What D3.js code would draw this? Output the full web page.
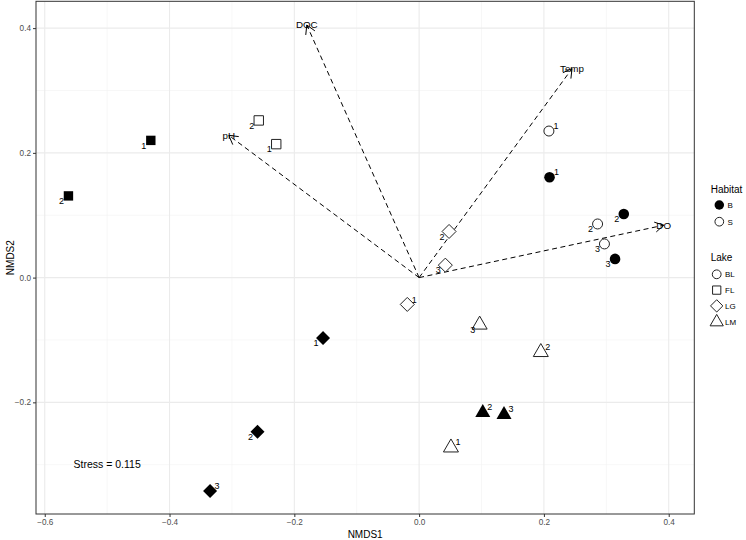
<!DOCTYPE html>
<html>
<head>
<meta charset="utf-8">
<script src="https://cdn.jsdelivr.net/npm/d3@7"></script>
<style>
  body { margin: 0; background: #fff; }
  text { font-family: "Liberation Sans", Arial, Helvetica, sans-serif; }
</style>
</head>
<body>
<div id="chart"></div>
<script>
var svgWidth = 746;
var svgHeight = 540;

// site scores
var habitat = ["B","B","S","S","S","B","B","S","S","B","S","S","S","B","B","B","S","S","B","B","S"];
var lake    = ["FL","FL","FL","FL","BL","BL","BL","BL","BL","BL","LG","LG","LG","LG","LG","LG","LM","LM","LM","LM","LM"];
var siteNo  = ["1","2","2","1","1","1","2","2","3","3","2","3","1","1","2","3","3","2","2","3","1"];
var nmds1   = [-0.430,-0.562,-0.257,-0.229,0.208,0.209,0.328,0.286,0.297,0.314,0.048,0.042,-0.019,-0.154,-0.259,-0.335,0.097,0.195,0.102,0.136,0.051];
var nmds2   = [0.220,0.131,0.252,0.214,0.235,0.161,0.102,0.086,0.054,0.030,0.074,0.020,-0.043,-0.097,-0.247,-0.342,-0.075,-0.119,-0.216,-0.219,-0.272];
// which side the number sits on: "ur" up-right, "dl" down-left
var labelSide = ["dl","dl","dl","dl","ur","ur","dl","dl","dl","dl","dl","dl","ur","dl","dl","ur","dl","ur","ur","ur","ur"];

// environmental vectors
var envNames = ["DOC","Temp","pH","DO"];
var envX = [-0.180, 0.245, -0.305, 0.392];
var envY = [0.405, 0.335, 0.228, 0.084];

var xTicks = [-0.6,-0.4,-0.2,0.0,0.2,0.4];
var yTicks = [-0.2,0.0,0.2,0.4];
var xMinor = [-0.5,-0.3,-0.1,0.1,0.3];
var yMinor = [-0.3,-0.1,0.1,0.3];

var habitatLevels = ["B","S"];
var lakeLevels = ["BL","FL","LG","LM"];
var stressText = "Stress = 0.115";

var panel = {left: 36, right: 694.3, top: 1.3, bottom: 514};

var svg = d3.select("#chart")
  .append("svg")
  .attr("width", svgWidth)
  .attr("height", svgHeight);

var x = d3.scaleLinear().domain([-0.614, 0.441]).range([panel.left, panel.right]);
var y = d3.scaleLinear().domain([-0.379, 0.443]).range([panel.bottom, panel.top]);

// grid
var grid = svg.append("g");
grid.selectAll(".xminor").data(xMinor).enter().append("line")
  .attr("x1", d => x(d)).attr("x2", d => x(d))
  .attr("y1", panel.top).attr("y2", panel.bottom)
  .attr("stroke", "#f2f2f2").attr("stroke-width", 0.6);
grid.selectAll(".yminor").data(yMinor).enter().append("line")
  .attr("y1", d => y(d)).attr("y2", d => y(d))
  .attr("x1", panel.left).attr("x2", panel.right)
  .attr("stroke", "#f2f2f2").attr("stroke-width", 0.6);
grid.selectAll(".xmajor").data(xTicks).enter().append("line")
  .attr("x1", d => x(d)).attr("x2", d => x(d))
  .attr("y1", panel.top).attr("y2", panel.bottom)
  .attr("stroke", "#ebebeb").attr("stroke-width", 1.1);
grid.selectAll(".ymajor").data(yTicks).enter().append("line")
  .attr("y1", d => y(d)).attr("y2", d => y(d))
  .attr("x1", panel.left).attr("x2", panel.right)
  .attr("stroke", "#ebebeb").attr("stroke-width", 1.1);

// axes
var fmt = d => d3.format(".1f")(d).replace("-", "\u2212");
var bottomAxis = d3.axisBottom(x).tickValues(xTicks).tickFormat(fmt).tickSize(3).tickPadding(2);
var leftAxis = d3.axisLeft(y).tickValues(yTicks).tickFormat(fmt).tickSize(3).tickPadding(2);

var xAxis = svg.append("g")
  .attr("transform", `translate(0, ${panel.bottom})`)
  .call(bottomAxis);
var yAxis = svg.append("g")
  .attr("transform", `translate(${panel.left}, 0)`)
  .call(leftAxis);
[xAxis, yAxis].forEach(function(a) {
  a.select(".domain").remove();
  a.selectAll("line").attr("stroke", "#333").attr("stroke-width", 1);
  a.selectAll("text").attr("fill", "#4d4d4d").style("font-size", "8.2px");
});

svg.append("rect")
  .attr("x", panel.left).attr("y", panel.top)
  .attr("width", panel.right - panel.left).attr("height", panel.bottom - panel.top)
  .attr("fill", "none").attr("stroke", "#333").attr("stroke-width", 1);

svg.append("text")
  .attr("x", (panel.left + panel.right) / 2).attr("y", 538)
  .attr("text-anchor", "middle").style("font-size", "10px")
  .text("NMDS1");
svg.append("text")
  .attr("transform", `translate(13.5, ${(panel.top + panel.bottom) / 2}) rotate(-90)`)
  .attr("text-anchor", "middle").style("font-size", "10px")
  .text("NMDS2");

// shape paths
function shapePath(l, k) {
  k = k || 1;
  if (l === "BL") {
    var r = 5 * k;
    return `M${-r},0A${r},${r} 0 1,0 ${r},0A${r},${r} 0 1,0 ${-r},0Z`;
  } else if (l === "FL") {
    var h = 4.7 * k;
    return `M${-h},${-h}L${h},${-h}L${h},${h}L${-h},${h}Z`;
  } else if (l === "LG") {
    var d = 7 * k;
    return `M0,${-d}L${d},0L0,${d}L${-d},0Z`;
  }
  var w = 7.5 * k;
  return `M0,${-8.3 * k}L${w},${4.7 * k}L${-w},${4.7 * k}Z`;
}

// env vectors
var vec = svg.append("g");
envNames.forEach(function(n, i) {
  var x1 = x(0), y1 = y(0), x2 = x(envX[i]), y2 = y(envY[i]);
  vec.append("line")
    .attr("x1", x1).attr("y1", y1).attr("x2", x2).attr("y2", y2)
    .attr("stroke", "#000").attr("stroke-width", 1)
    .attr("stroke-dasharray", "5,3.5");
  var ang = Math.atan2(y2 - y1, x2 - x1);
  var len = 10, spread = Math.PI / 6;
  [ang + spread, ang - spread].forEach(function(a) {
    vec.append("line")
      .attr("x1", x2).attr("y1", y2)
      .attr("x2", x2 - len * Math.cos(a)).attr("y2", y2 - len * Math.sin(a))
      .attr("stroke", "#000").attr("stroke-width", 1);
  });
  vec.append("text")
    .attr("x", x2).attr("y", y2)
    .attr("text-anchor", "middle").attr("dy", "0.35em")
    .style("font-size", "9.8px")
    .text(n);
});

// points
var pts = svg.append("g");
nmds1.forEach(function(v, i) {
  var filled = habitat[i] === "B";
  pts.append("path")
    .attr("d", shapePath(lake[i], filled && lake[i] === "BL" ? 1.06 : 1))
    .attr("transform", `translate(${x(v)},${y(nmds2[i])})`)
    .attr("fill", filled ? "#000" : "#fff")
    .attr("stroke", filled ? "none" : "#222")
    .attr("stroke-width", 1);
  var up = labelSide[i] === "ur";
  pts.append("text")
    .attr("x", x(v) + (up ? 7 : -7))
    .attr("y", y(nmds2[i]) + (up ? -5 : 5))
    .attr("text-anchor", "middle").attr("dy", "0.35em")
    .style("font-size", "9px")
    .text(siteNo[i]);
});

svg.append("text")
  .attr("x", x(-0.5)).attr("y", y(-0.3))
  .attr("text-anchor", "middle").attr("dy", "0.35em")
  .style("font-size", "10.5px")
  .text(stressText);

// legends
var leg = svg.append("g");
leg.append("text").attr("x", 710.7).attr("y", 193).style("font-size", "10px").text("Habitat");
habitatLevels.forEach(function(h, i) {
  var cy = 205 + i * 16.7;
  leg.append("path")
    .attr("d", shapePath("BL", h === "B" ? 0.95 : 0.87))
    .attr("transform", `translate(719.3,${cy})`)
    .attr("fill", h === "B" ? "#000" : "#fff")
    .attr("stroke", h === "B" ? "none" : "#222");
  leg.append("text").attr("x", 727.5).attr("y", cy).attr("dy", "0.35em")
    .style("font-size", "8px").text(h);
});
leg.append("text").attr("x", 710.7).attr("y", 261).style("font-size", "10px").text("Lake");
lakeLevels.forEach(function(l, i) {
  var cy = 274.3 + i * 15.8;
  leg.append("path")
    .attr("d", shapePath(l, 0.88))
    .attr("transform", `translate(716.7,${cy})`)
    .attr("fill", "#fff").attr("stroke", "#222");
  leg.append("text").attr("x", 725).attr("y", cy).attr("dy", "0.35em")
    .style("font-size", "8px").text(l);
});
</script>
</body>
</html>
